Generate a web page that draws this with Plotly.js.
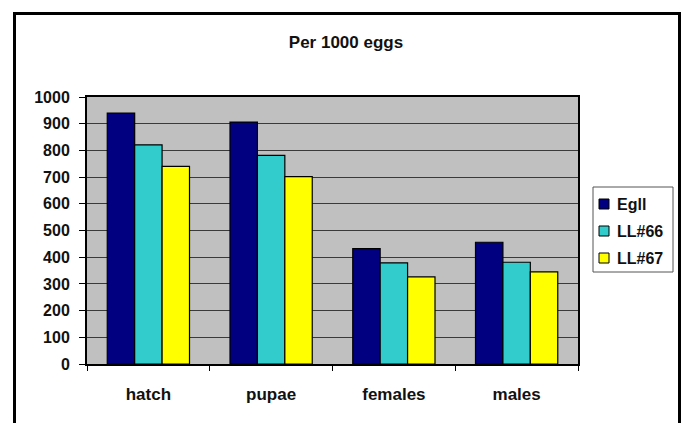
<!DOCTYPE html>
<html>
<head>
<meta charset="utf-8">
<script src="https://cdn.plot.ly/plotly-3.0.1.min.js"></script>
<style>
  html, body { margin: 0; padding: 0; background: #ffffff; }
  #wrap { position: relative; width: 685px; height: 423px; overflow: hidden; }
  #chart { position: absolute; left: 0; top: 0; width: 685px; height: 423px; }
  #frame {
    position: absolute; left: 13px; top: 12px; width: 662px; height: 440px;
    border: 3px solid #000; pointer-events: none;
  }
</style>
</head>
<body>
<div id="wrap">
  <div id="chart"></div>
  <div id="frame"></div>
</div>
<script>
// Survival counts per 1000 eggs for each strain
const stages = ['hatch', 'pupae', 'females', 'males'];
const seriesNames = ['Egll', 'LL#66', 'LL#67'];
const egll = [940, 906, 432, 456];
const ll66 = [821, 781, 379, 381];
const ll67 = [740, 702, 326, 345];
const yTicks = [0, 100, 200, 300, 400, 500, 600, 700, 800, 900, 1000];
const colors = ['#000080', '#33CCCC', '#FFFF00'];

const FONT = 'Liberation Sans, Arial, sans-serif';
const W = 685, H = 423;
const M = { l: 87, r: 107, t: 97, b: 59 };
const plotW = W - M.l - M.r, plotH = H - M.t - M.b;

// pixel -> paper helpers for the boxed key on the right
const px = x => (x - M.l) / plotW;
const py = y => (H - M.b - y) / plotH;

function barTrace(name, values, color) {
  return {
    type: 'bar',
    name: name,
    x: stages,
    y: values,
    marker: { color: color, line: { color: '#000000', width: 1.2 } },
    hoverinfo: 'x+y+name',
    showlegend: false
  };
}

const data = [
  barTrace(seriesNames[0], egll, colors[0]),
  barTrace(seriesNames[1], ll66, colors[1]),
  barTrace(seriesNames[2], ll67, colors[2])
];

// key: framed box with a swatch and label per series
const shapes = [{
  type: 'rect', xref: 'paper', yref: 'paper',
  x0: px(593), x1: px(673), y0: py(272), y1: py(187),
  fillcolor: '#ffffff', line: { color: '#555555', width: 1 }
}];
const annotations = [];
seriesNames.forEach((name, i) => {
  const cy = 204 + i * 27;
  shapes.push({
    type: 'rect', xref: 'paper', yref: 'paper',
    x0: px(599), x1: px(609), y0: py(cy + 5), y1: py(cy - 5),
    fillcolor: colors[i], line: { color: '#000000', width: 1 }
  });
  annotations.push({
    xref: 'paper', yref: 'paper', x: px(615), y: py(cy),
    xanchor: 'left', yanchor: 'middle', showarrow: false,
    text: name,
    font: { family: FONT, size: 16, weight: 'bold', color: '#111111' }
  });
});

const layout = {
  width: W,
  height: H,
  margin: { l: M.l, r: M.r, t: M.t, b: M.b, autoexpand: false },
  paper_bgcolor: '#ffffff',
  plot_bgcolor: '#c0c0c0',
  barmode: 'group',
  bargap: 0.33,
  bargroupgap: 0,
  font: { family: FONT, color: '#111111' },
  title: {
    text: 'Per 1000 eggs',
    font: { family: FONT, size: 17, weight: 'bold', color: '#111111' },
    x: 346 / W,
    xanchor: 'center',
    xref: 'container',
    y: 1 - 42 / H,
    yanchor: 'middle',
    yref: 'container'
  },
  xaxis: {
    type: 'category',
    showgrid: false,
    showline: true,
    linecolor: '#000000',
    linewidth: 2,
    mirror: true,
    ticks: 'outside',
    tickson: 'boundaries',
    ticklen: 5,
    tickcolor: '#000000',
    tickwidth: 1,
    ticklabelstandoff: 14,
    tickfont: { family: FONT, size: 17, weight: 'bold', color: '#111111' }
  },
  yaxis: {
    range: [0, 1000],
    tickmode: 'array',
    tickvals: yTicks,
    ticktext: yTicks.map(String),
    showgrid: true,
    gridcolor: '#3a3a3a',
    gridwidth: 1,
    zeroline: false,
    showline: true,
    linecolor: '#000000',
    linewidth: 2,
    mirror: true,
    ticks: 'outside',
    ticklen: 6,
    tickcolor: '#000000',
    tickwidth: 1,
    ticklabelstandoff: 6,
    tickfont: { family: FONT, size: 16, weight: 'bold', color: '#111111' }
  },
  showlegend: false,
  shapes: shapes,
  annotations: annotations
};

Plotly.newPlot('chart', data, layout, { displayModeBar: false, staticPlot: true });
</script>
</body>
</html>
